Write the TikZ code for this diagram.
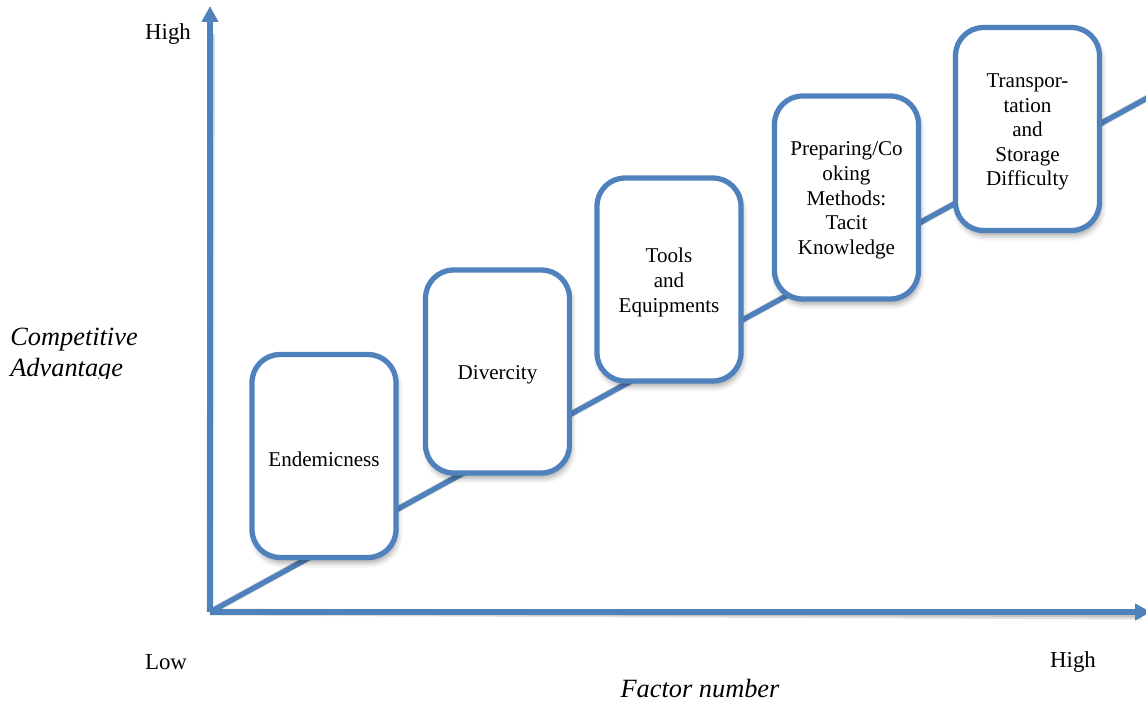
\documentclass[tikz,border=0pt]{standalone}
\usepackage{fontspec}
\setmainfont{Liberation Serif}
\usetikzlibrary{arrows.meta,shadows.blur}
\definecolor{axisblue}{HTML}{4F81BD}
\tikzset{
  axisline/.style={draw=axisblue, line width=3pt},
  shadowline/.style={draw=black, line width=4pt, opacity=0.12},
  factorbox/.style={draw=axisblue, fill=white, line width=3pt,
    rounded corners=0.56cm, minimum width=2.88cm, minimum height=4.06cm,
    inner sep=0pt,
    blur shadow={shadow xshift=1pt, shadow yshift=-3pt,
      shadow blur radius=3pt, shadow opacity=35}},
  boxtext/.style={align=center, font=\fontsize{12}{14}\selectfont,
    inner sep=0pt, yshift=-1.7pt},
  plainlabel/.style={font=\fontsize{13}{15}\selectfont, inner sep=0pt},
  axistitle/.style={font=\fontsize{15}{17.6}\selectfont\itshape, inner sep=0pt},
}
\begin{document}
\begin{tikzpicture}[x=0.02cm, y=-0.02cm]
  \useasboundingbox (0,0) rectangle (1146,703);

  % axis anchor points
  \coordinate (o) at (210,612);
  \coordinate (ytop) at (210,6);
  \coordinate (xend) at (1151,612);
  \coordinate (dend) at (1160,91);

  % soft shadows under the axes and the trend line
  \begin{scope}[shift={(1.5,4)}]
    \draw[shadowline] (o) -- (210,30);
    \draw[shadowline] (o) -- (1140,612);
    \draw[shadowline] (o) -- (dend);
  \end{scope}
  \begin{scope}[shift={(1,2.5)}]
    \draw[shadowline, line width=3pt] (o) -- (210,30);
    \draw[shadowline, line width=3pt] (o) -- (1140,612);
    \draw[shadowline, line width=3pt] (o) -- (dend);
  \end{scope}

  % axes and trend line
  \draw[axisline, -{Triangle[length=9pt, width=9pt]}] (o) -- (ytop);
  \draw[axisline, -{Triangle[length=9pt, width=9pt]}] (o) -- (xend);
  \draw[axisline] (o) -- (dend);

  % factor boxes along the line
  \node[factorbox, label={[boxtext]center:Endemicness}] (endem) at (324,456) {};
  \node[factorbox, label={[boxtext]center:Divercity}] (diver) at (497.5,371.5) {};
  \node[factorbox, label={[boxtext]center:{Tools\\and\\Equipments}}] (tools) at (669,279.5) {};
  \node[factorbox, label={[boxtext]center:{Preparing/Co\\oking\\Methods:\\Tacit\\Knowledge}}] (cook) at (846.5,197.5) {};
  \node[factorbox, label={[boxtext]center:{Transpor-\\tation\\and\\Storage\\Difficulty}}] (trans) at (1027.5,129) {};

  % axis labels
  \node[plainlabel] (yhigh) at (168,34) {High};
  \node[plainlabel] (xlow) at (166,662) {Low};
  \node[plainlabel] (xhigh) at (1073,662) {High};
  \node[axistitle] (xtitle) at (700,689) {Factor number};
  \begin{scope}
    \clip (0,315) rectangle (200,378);
    \node[axistitle, anchor=north west, align=left] (ytitle) at (10,328)
      {Competitive\\Advantage};
  \end{scope}
\end{tikzpicture}
\end{document}
